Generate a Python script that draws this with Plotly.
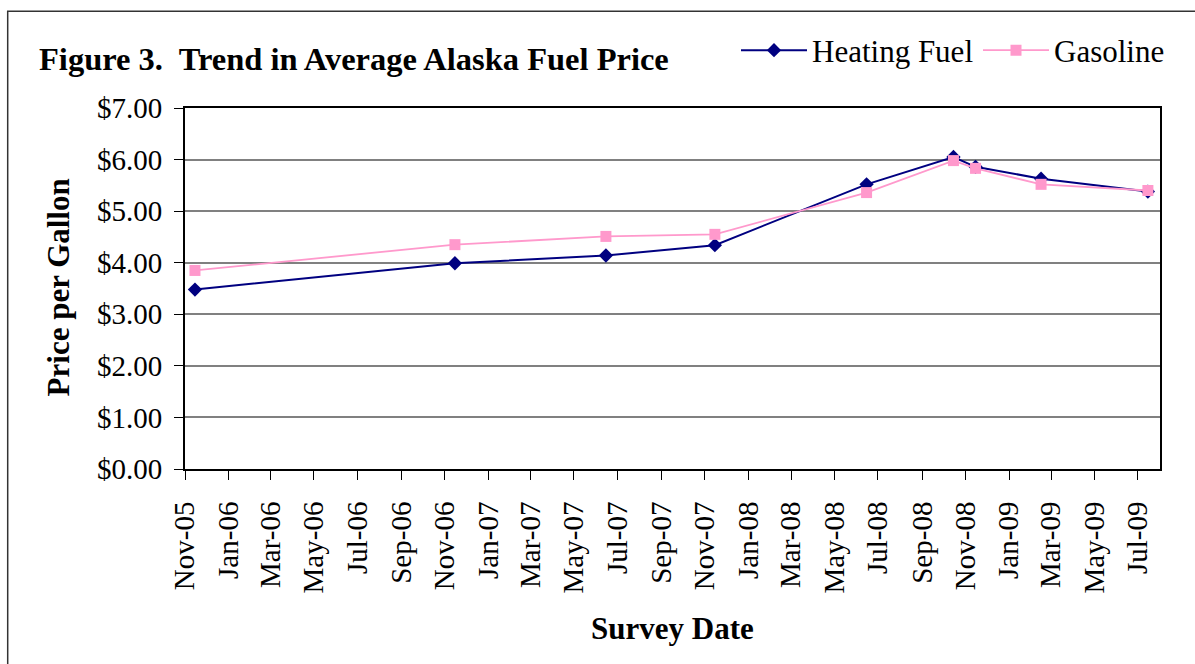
import plotly.graph_objects as go

survey_dates = ["2005-11-15", "2006-11-15", "2007-06-15", "2007-11-15", "2008-06-15",
                "2008-10-15", "2008-11-15", "2009-02-15", "2009-07-15"]
heating_fuel = [3.48, 3.99, 4.14, 4.34, 5.52, 6.05, 5.86, 5.63, 5.38]
gasoline = [3.85, 4.35, 4.51, 4.55, 5.36, 5.98, 5.83, 5.52, 5.40]

y_ticks = [0, 1, 2, 3, 4, 5, 6, 7]
y_tick_labels = ["$0.00", "$1.00", "$2.00", "$3.00", "$4.00", "$5.00", "$6.00", "$7.00"]

FONT = "Liberation Serif"
W, H = 1195, 664
L, R, T, B = 185, 1160, 107.5, 468.7

def px_x(p):
    return (p - L) / (R - L)

def px_y(p):
    return (B - p) / (B - T)

fig = go.Figure()
fig.add_trace(go.Scatter(
    x=survey_dates, y=heating_fuel, name="Heating Fuel", mode="lines+markers",
    line=dict(color="#000080", width=2),
    marker=dict(symbol="diamond", size=11, color="#000080"),
))
fig.add_trace(go.Scatter(
    x=survey_dates, y=gasoline, name="Gasoline", mode="lines+markers",
    line=dict(color="#FF99CC", width=1.8),
    marker=dict(symbol="square", size=11, color="#FF99CC"),
))

fig.update_layout(
    width=W, height=H,
    margin=dict(l=L, r=W - R, t=T, b=H - B, pad=0),
    paper_bgcolor="white", plot_bgcolor="white",
    font=dict(family=FONT, size=24, color="black"),
    showlegend=True,
    legend=dict(orientation="h", x=px_x(736), y=px_y(50), xanchor="left", yanchor="middle",
                font=dict(family=FONT, size=31), bgcolor="rgba(0,0,0,0)",
                itemwidth=66, tracegroupgap=0),
    annotations=[
        dict(text="<b>Figure 3.  Trend in Average Alaska Fuel Price</b>", xref="paper", yref="paper",
             x=px_x(37), y=px_y(58), xanchor="left", yanchor="middle", showarrow=False,
             font=dict(family=FONT, size=32.5, color="black")),
        dict(text="<b>Survey Date</b>", xref="paper", yref="paper",
             x=px_x(672), y=px_y(628), xanchor="center", yanchor="middle", showarrow=False,
             font=dict(family=FONT, size=31, color="black")),
        dict(text="<b>Price per Gallon</b>", xref="paper", yref="paper", textangle=-90,
             x=px_x(58), y=px_y(287), xanchor="center", yanchor="middle", showarrow=False,
             font=dict(family=FONT, size=31, color="black")),
    ],
    shapes=[
        dict(type="rect", xref="paper", yref="paper",
             x0=px_x(7.7), x1=px_x(1210), y0=px_y(680), y1=px_y(10.7),
             line=dict(color="#333333", width=1.5), fillcolor="rgba(0,0,0,0)", layer="below"),
    ],
)

fig.update_xaxes(
    type="date", range=["2005-11-01", "2009-08-01"],
    tick0="2005-11-01", dtick="M2", tickformat="%b-%y", tickangle=-90,
    ticks="outside", ticklen=9, tickcolor="black", tickwidth=1,
    showline=True, linecolor="black", linewidth=2, mirror=True,
    showgrid=False, zeroline=False,
    tickfont=dict(family=FONT, size=29),
    ticklabelstandoff=10,
)
fig.update_yaxes(
    range=[0, 7], tickvals=y_ticks, ticktext=y_tick_labels,
    ticks="outside", ticklen=9, tickcolor="black", tickwidth=1,
    showline=True, linecolor="black", linewidth=2, mirror=True,
    showgrid=True, gridcolor="#808080", gridwidth=1.5, zeroline=False,
    tickfont=dict(family=FONT, size=29),
    ticklabelstandoff=6,
)

fig.write_html("out.html", config={"displayModeBar": False},
               post_script="document.body.style.margin='0';")
